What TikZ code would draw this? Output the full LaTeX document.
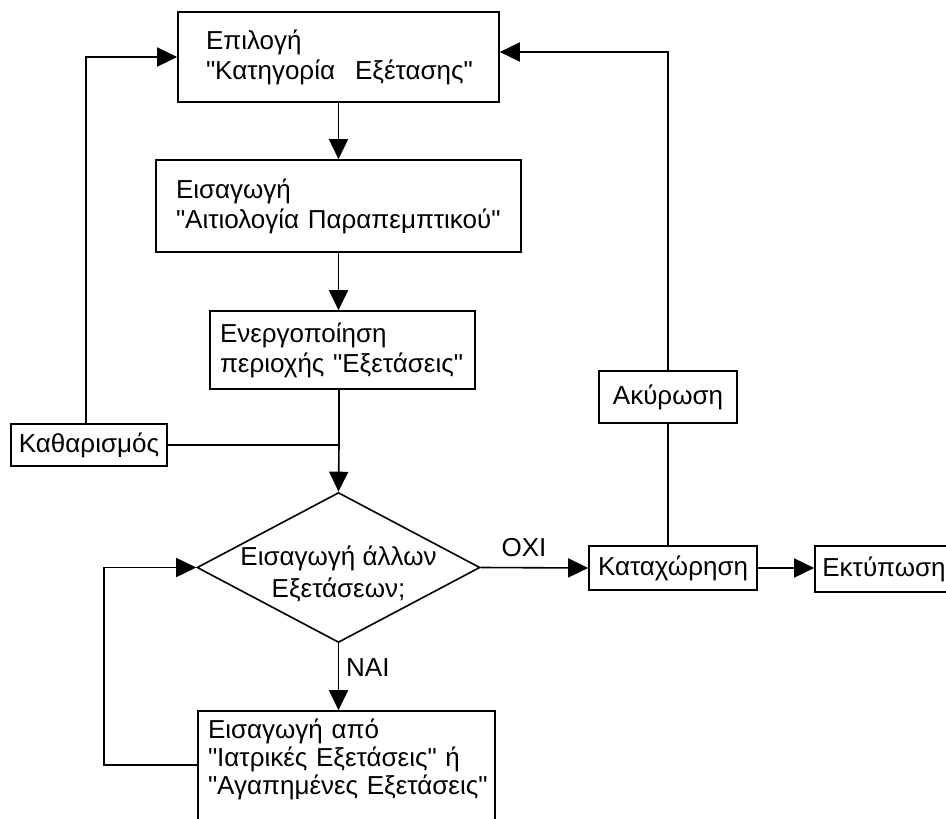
\documentclass[tikz,border=0pt]{standalone}
\usepackage{fontspec}
\setmainfont{Liberation Sans}[Ligatures=TeXOff]
\usetikzlibrary{arrows.meta,shapes.geometric}
\tikzset{
  ln/.style={line width=1.6pt},
  arr/.style={ln,-{Triangle[length=20pt,width=19pt]}},
  box/.style={draw,ln,rectangle,inner ysep=0pt,align=left,
    font=\fontsize{26}{30}\selectfont},
  cbox/.style={draw,ln,rectangle,inner sep=0pt,align=center,
    font=\fontsize{26}{30}\selectfont},
  lbl/.style={inner sep=0pt,font=\fontsize{26}{30}\selectfont}
}
\begin{document}
\begin{tikzpicture}[x=1pt,y=-1pt]
\useasboundingbox (0,0) rectangle (946,819);
\clip (0,0) rectangle (946,819);
\fill[white] (0,0) rectangle (946,819);

\node[box,text width=265pt,inner xsep=28pt,minimum height=90pt] (box1) at (338.5,57)
  {Επιλογή\\"Κατηγορία\hspace*{20pt}Εξέτασης"};
\node[box,text width=325pt,inner xsep=20pt,minimum height=92pt] (box2) at (338.5,206)
  {Εισαγωγή\\"Αιτιολογία~Παραπεμπτικού"};
\node[box,text width=245pt,inner xsep=10pt,minimum height=78pt] (box3) at (342.5,350)
  {Ενεργοποίηση\\περιοχής~"Εξετάσεις"};
\node[cbox,minimum width=156pt,minimum height=42pt] (kath) at (89,445) {Καθαρισμός};
\node[draw,ln,diamond,minimum width=283pt,minimum height=150pt,inner sep=0pt] (dia) at (338.5,567.5) {};
\node[lbl,align=center,font=\fontsize{26}{32}\selectfont] (dlabel) at (338.5,574) {Εισαγωγή~άλλων\\Εξετάσεων;};
\node[box,text width=277pt,inner xsep=10pt,minimum height=111pt,
  font=\fontsize{26}{28}\selectfont] (bot) at (346.5,766.5)
  {Εισαγωγή~από\\"Ιατρικές~Εξετάσεις"~ή\\"Αγαπημένες~Εξετάσεις"\\[-8pt]\mbox{}};
\node[cbox,minimum width=168pt,minimum height=44pt] (kat) at (673,568) {Καταχώρηση};
\node[cbox,minimum width=138pt,minimum height=46pt] (ekt) at (884,569) {Εκτύπωση};
\node[cbox,minimum width=138pt,minimum height=52pt] (aky) at (668,397) {Ακύρωση};
\node[lbl,anchor=west] (nai) at (346,668) {ΝΑΙ};
\node[lbl] (oxi) at (524,548) {ΟΧΙ};

\coordinate (j) at (339,445);
\coordinate (lx) at (104,0);

\draw[arr] (box1.south) -- (box2.north);
\draw[arr] (box2.south) -- (box2.south |- box3.north);
\draw[ln] (j |- box3.south) -- (j);
\draw[ln] (kath.east) -- (j);
\draw[arr] (j) -- (dia.north);
\draw[arr] ([xshift=-3pt]kath.north) |- (box1.west);
\draw[arr] (dia.east) -- (kat.west);
\draw[arr] (kat.east) -- (kat.east -| ekt.west);
\draw[ln] (aky.south) -- (aky.south |- kat.north);
\draw[arr] (aky.north) |- ([yshift=5pt]box1.east);
\draw[arr] (dia.south) -- (dia.south |- bot.north);
\draw[arr] ([yshift=1.5pt]bot.west) -- ([yshift=1.5pt]bot.west -| lx) |- (dia.west);
\end{tikzpicture}
\end{document}
